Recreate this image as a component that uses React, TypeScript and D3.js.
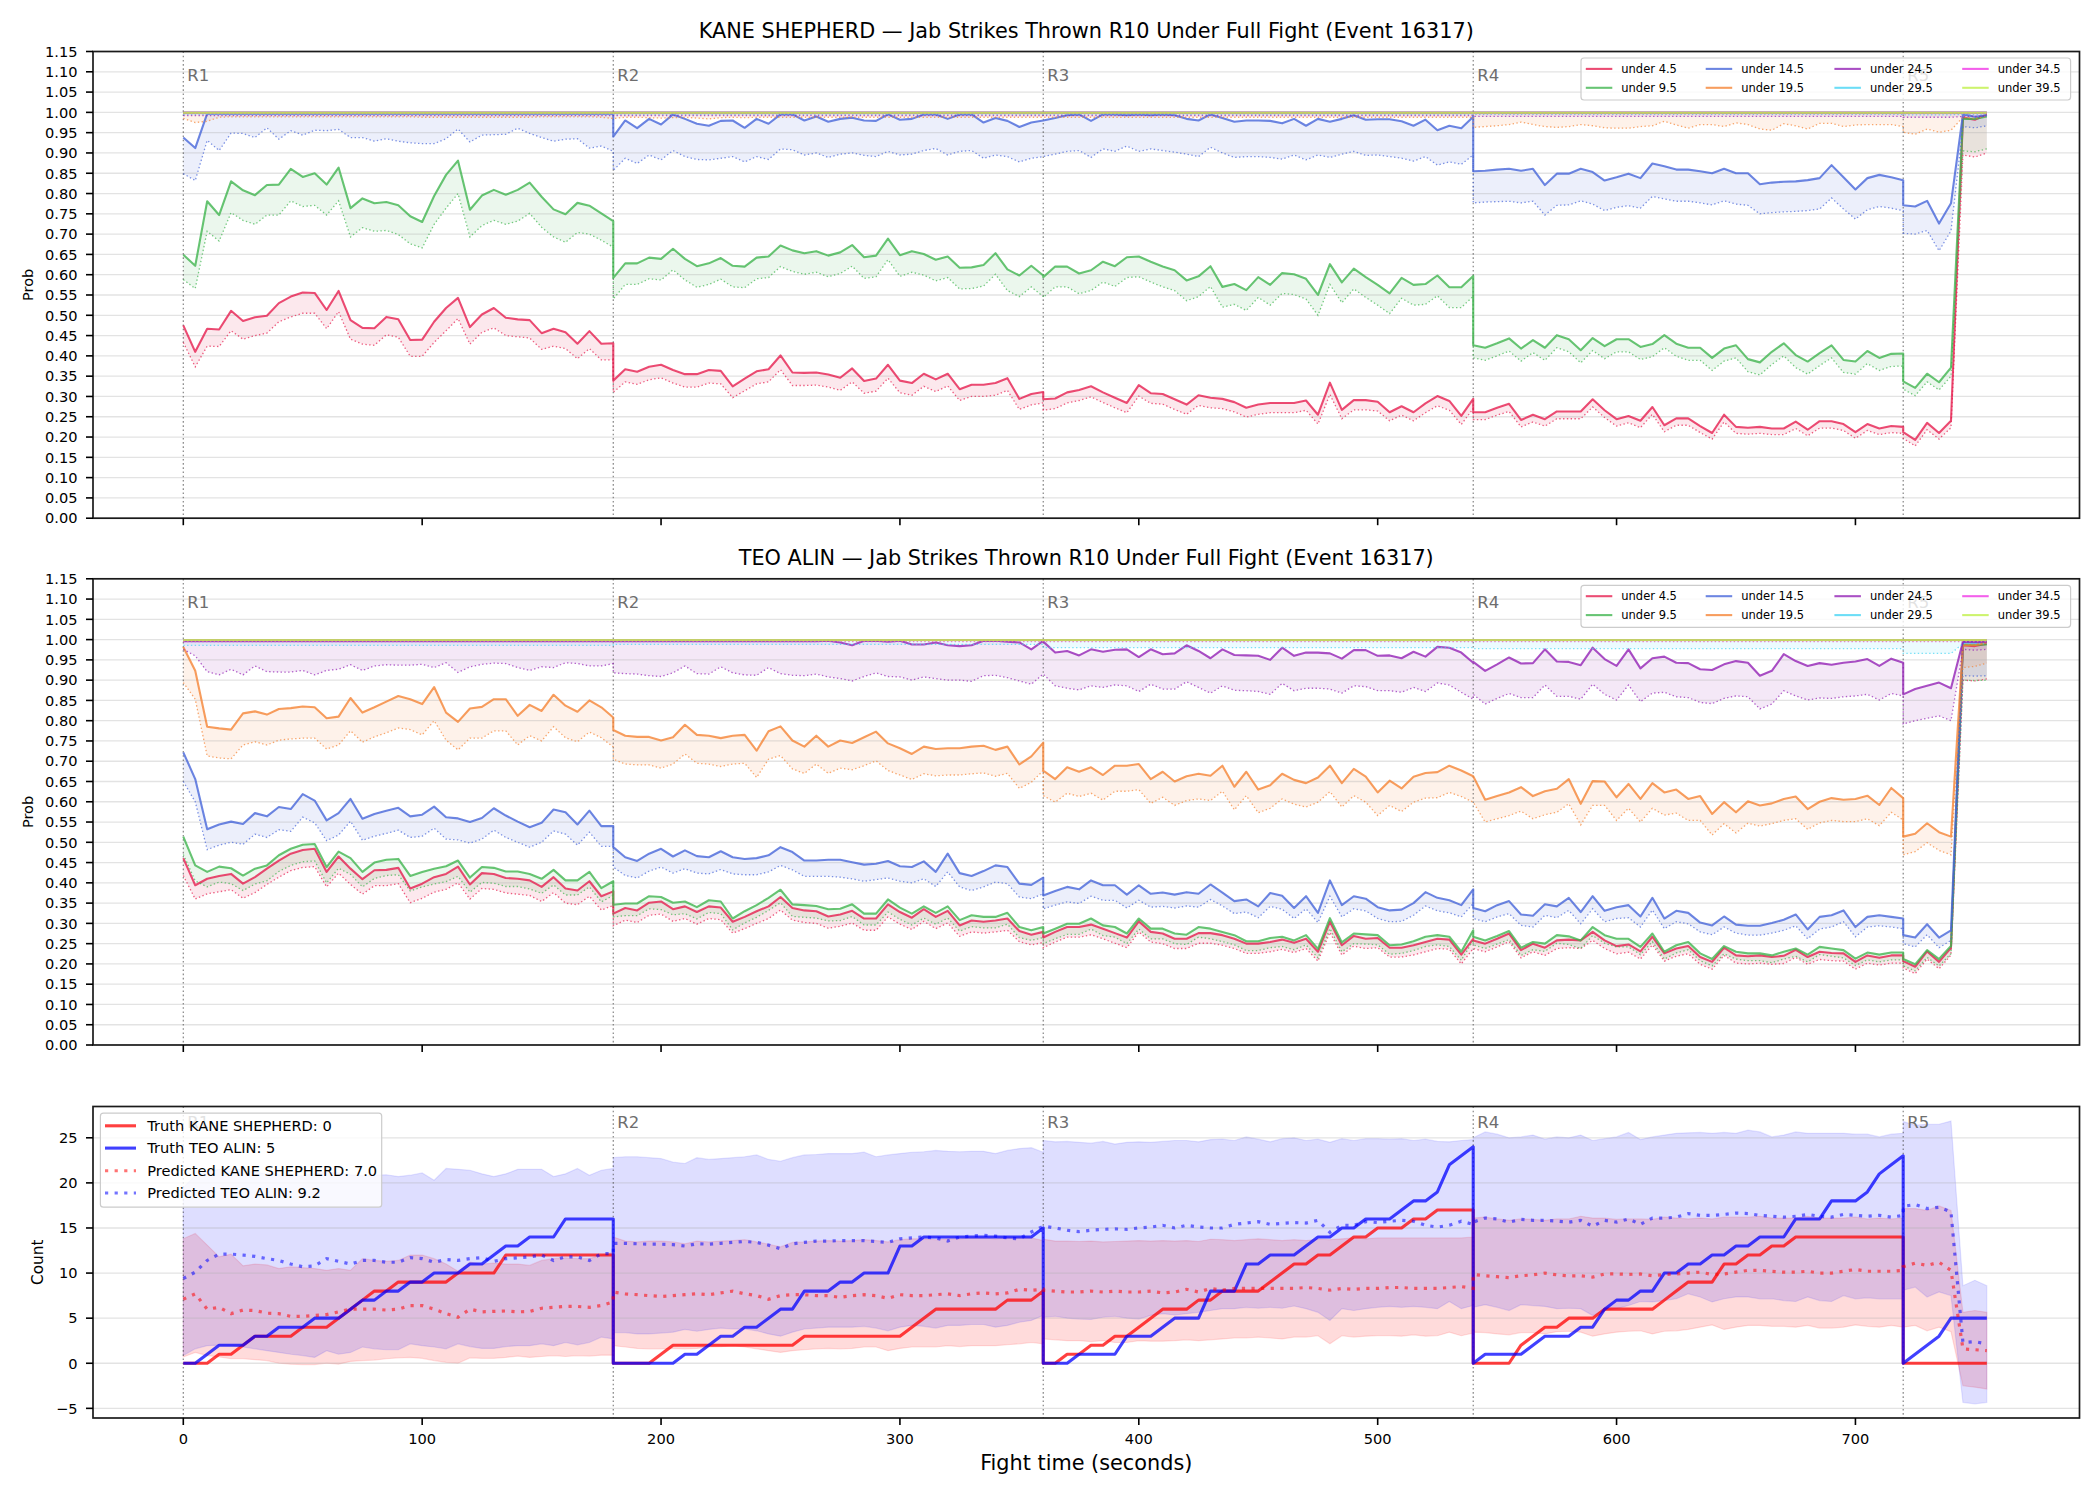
import React from "react";
import * as d3 from "d3";

// ---------------- time axis ----------------
const ROUND_STARTS = [0, 180, 360, 540, 720];
const ROUND_NAMES = ["R1", "R2", "R3", "R4", "R5"];
const SAMPLE_STEP = 5;
const FIGHT_END = 755;
// segment lengths: R1..R4 (37 samples each, boundary repeated), R5 before / after the final jump
const SEG_LENGTHS = [37, 37, 37, 37, 5, 3];

function buildTimes(): number[] {
  const t: number[] = [];
  for (let r = 0; r < 4; r++) for (let k = 0; k <= 36; k++) t.push(ROUND_STARTS[r] + k * SAMPLE_STEP);
  for (let s = 720; s <= FIGHT_END; s += SAMPLE_STEP) t.push(s);
  return t;
}
const TIMES = buildTimes();

// flat series (read as constant level per segment)
function expandLevels(levels: number[]): number[] {
  const out: number[] = [];
  SEG_LENGTHS.forEach((n, i) => {
    for (let k = 0; k < n; k++) out.push(levels[i]);
  });
  return out;
}

// ---------------- labels / colours ----------------
const OU_LABELS = ["under 4.5", "under 9.5", "under 14.5", "under 19.5", "under 24.5", "under 29.5", "under 34.5", "under 39.5"];
const OU_COLORS = ["#e6194b", "#3cb44b", "#4363d8", "#f58231", "#911eb4", "#42d4f4", "#f032e6", "#bfef45"];
const TITLE_TOP = "KANE SHEPHERD \u2014 Jab Strikes Thrown R10 Under Full Fight (Event 16317)";
const TITLE_MID = "TEO ALIN \u2014 Jab Strikes Thrown R10 Under Full Fight (Event 16317)";
const PROB_TICKS = [0, 0.05, 0.1, 0.15, 0.2, 0.25, 0.3, 0.35, 0.4, 0.45, 0.5, 0.55, 0.6, 0.65, 0.7, 0.75, 0.8, 0.85, 0.9, 0.95, 1.0, 1.05, 1.1, 1.15];
const COUNT_TICKS = [-5, 0, 5, 10, 15, 20, 25];
const X_TICKS = [0, 100, 200, 300, 400, 500, 600, 700];
const COUNT_LEGEND = ["Truth KANE SHEPHERD: 0", "Truth TEO ALIN: 5", "Predicted KANE SHEPHERD: 7.0", "Predicted TEO ALIN: 9.2"];

// ---------------- KANE SHEPHERD (top panel) ----------------
const TOP_U45_HI = [
  0.475,0.41,0.467,0.465,0.511,0.486,0.495,0.499,0.53,0.546,0.556,0.555,0.513,0.56,0.488,0.469,0.468,0.496,0.49,0.439,0.44,0.484,0.518,0.543,0.471,0.502,0.518,0.494,0.49,0.488,0.456,0.467,0.458,0.43,0.461,0.43,0.431,
  0.339,0.367,0.361,0.373,0.378,0.365,0.355,0.355,0.365,0.363,0.325,0.344,0.362,0.367,0.401,0.359,0.358,0.359,0.354,0.346,0.369,0.338,0.344,0.378,0.339,0.333,0.356,0.342,0.356,0.318,0.329,0.329,0.333,0.345,0.294,0.306,0.311,
  0.293,0.295,0.31,0.316,0.325,0.31,0.297,0.284,0.328,0.308,0.306,0.293,0.28,0.303,0.297,0.294,0.286,0.272,0.28,0.284,0.284,0.284,0.29,0.255,0.334,0.267,0.291,0.291,0.287,0.261,0.276,0.261,0.283,0.301,0.289,0.252,0.294,
  0.261,0.261,0.272,0.282,0.242,0.255,0.244,0.263,0.263,0.263,0.293,0.266,0.244,0.252,0.24,0.274,0.229,0.246,0.246,0.227,0.21,0.255,0.225,0.223,0.225,0.221,0.221,0.238,0.218,0.239,0.239,0.232,0.212,0.232,0.221,0.227,0.225,
  0.212,0.193,0.235,0.21,0.24,0.987,0.982,0.995,
];
const TOP_U45_LO = [
  0.433,0.373,0.424,0.423,0.462,0.441,0.45,0.456,0.484,0.496,0.505,0.505,0.467,0.509,0.441,0.429,0.426,0.452,0.446,0.399,0.399,0.433,0.462,0.492,0.429,0.458,0.469,0.45,0.447,0.444,0.416,0.424,0.418,0.393,0.418,0.39,0.39,
  0.31,0.336,0.33,0.341,0.346,0.333,0.323,0.323,0.333,0.331,0.297,0.314,0.331,0.336,0.366,0.327,0.327,0.328,0.323,0.315,0.336,0.308,0.313,0.345,0.309,0.303,0.325,0.312,0.326,0.29,0.3,0.3,0.303,0.315,0.268,0.279,0.284,
  0.266,0.27,0.284,0.29,0.299,0.285,0.272,0.26,0.301,0.283,0.281,0.268,0.256,0.278,0.272,0.27,0.262,0.249,0.256,0.26,0.26,0.26,0.266,0.232,0.305,0.245,0.267,0.267,0.264,0.24,0.254,0.24,0.26,0.277,0.266,0.231,0.27,
  0.243,0.243,0.254,0.263,0.225,0.237,0.227,0.245,0.245,0.245,0.274,0.248,0.227,0.235,0.223,0.256,0.213,0.229,0.229,0.211,0.195,0.237,0.209,0.207,0.209,0.206,0.206,0.221,0.203,0.222,0.222,0.216,0.197,0.216,0.206,0.211,0.209,
  0.197,0.178,0.218,0.195,0.223,0.895,0.89,0.9,
];
const TOP_U95_HI = [
  0.649,0.622,0.781,0.747,0.83,0.808,0.796,0.821,0.822,0.861,0.841,0.85,0.822,0.864,0.764,0.788,0.776,0.779,0.771,0.744,0.73,0.794,0.846,0.881,0.76,0.795,0.809,0.797,0.809,0.827,0.792,0.761,0.749,0.777,0.77,0.751,0.732,
  0.592,0.628,0.628,0.642,0.639,0.664,0.639,0.621,0.628,0.641,0.622,0.62,0.642,0.645,0.672,0.66,0.653,0.658,0.647,0.655,0.673,0.643,0.647,0.689,0.648,0.658,0.651,0.637,0.645,0.617,0.618,0.624,0.653,0.613,0.598,0.622,0.598,
  0.594,0.62,0.62,0.603,0.611,0.632,0.621,0.643,0.645,0.632,0.62,0.611,0.586,0.596,0.621,0.57,0.577,0.562,0.594,0.575,0.604,0.601,0.59,0.55,0.626,0.581,0.615,0.594,0.575,0.554,0.592,0.575,0.577,0.598,0.569,0.569,0.597,
  0.426,0.42,0.431,0.443,0.418,0.439,0.42,0.451,0.441,0.414,0.444,0.424,0.441,0.441,0.422,0.429,0.451,0.43,0.42,0.42,0.395,0.418,0.426,0.392,0.384,0.41,0.431,0.402,0.386,0.407,0.426,0.39,0.386,0.412,0.395,0.405,0.406,
  0.337,0.321,0.356,0.335,0.371,0.984,0.984,0.99,
];
const TOP_U95_LO = [
  0.588,0.566,0.707,0.683,0.753,0.734,0.724,0.747,0.747,0.782,0.768,0.771,0.747,0.782,0.693,0.716,0.707,0.709,0.699,0.676,0.666,0.724,0.764,0.8,0.693,0.721,0.734,0.724,0.732,0.751,0.717,0.693,0.68,0.704,0.7,0.685,0.668,
  0.54,0.576,0.576,0.59,0.587,0.612,0.587,0.569,0.576,0.589,0.57,0.568,0.59,0.593,0.62,0.608,0.601,0.606,0.595,0.603,0.621,0.591,0.595,0.637,0.596,0.606,0.599,0.585,0.593,0.565,0.566,0.572,0.601,0.561,0.546,0.57,0.546,
  0.544,0.57,0.57,0.553,0.561,0.582,0.571,0.593,0.595,0.582,0.57,0.561,0.536,0.546,0.571,0.52,0.527,0.512,0.544,0.525,0.554,0.551,0.54,0.5,0.576,0.531,0.565,0.544,0.525,0.504,0.542,0.525,0.527,0.548,0.519,0.519,0.547,
  0.395,0.389,0.4,0.412,0.387,0.408,0.389,0.42,0.41,0.383,0.413,0.393,0.41,0.41,0.391,0.398,0.42,0.399,0.389,0.389,0.364,0.387,0.395,0.361,0.353,0.379,0.4,0.371,0.355,0.376,0.395,0.359,0.355,0.381,0.364,0.374,0.375,
  0.318,0.302,0.336,0.316,0.35,0.905,0.903,0.91,
];
const TOP_U145_HI = [
  0.938,0.912,0.997,0.997,0.997,0.997,0.997,0.997,0.997,0.997,0.997,0.997,0.997,0.997,0.997,0.997,0.997,0.997,0.997,0.997,0.997,0.997,0.997,0.997,0.997,0.997,0.997,0.997,0.997,0.997,0.997,0.997,0.997,0.997,0.997,0.997,0.997,
  0.94,0.98,0.961,0.984,0.97,0.995,0.984,0.972,0.967,0.979,0.98,0.962,0.984,0.972,0.995,0.995,0.98,0.99,0.977,0.984,0.987,0.98,0.979,0.995,0.982,0.984,0.995,0.995,0.984,0.995,0.995,0.975,0.986,0.979,0.964,0.975,0.98,
  0.98,0.986,0.993,0.995,0.979,0.995,0.995,0.993,0.995,0.993,0.995,0.993,0.984,0.98,0.995,0.986,0.977,0.98,0.98,0.979,0.973,0.984,0.967,0.984,0.977,0.984,0.993,0.982,0.983,0.983,0.978,0.967,0.982,0.956,0.967,0.961,0.989,
  0.855,0.856,0.859,0.861,0.856,0.861,0.821,0.849,0.849,0.861,0.853,0.832,0.84,0.849,0.838,0.874,0.867,0.859,0.859,0.855,0.85,0.861,0.85,0.85,0.823,0.827,0.829,0.83,0.833,0.838,0.87,0.84,0.81,0.838,0.846,0.84,0.833,
  0.771,0.768,0.782,0.726,0.776,0.995,0.989,0.993,
];
const TOP_U145_LO = [
  0.849,0.832,0.931,0.906,0.949,0.948,0.938,0.962,0.934,0.955,0.944,0.956,0.955,0.958,0.938,0.938,0.929,0.935,0.929,0.925,0.923,0.923,0.935,0.959,0.927,0.944,0.945,0.946,0.961,0.948,0.938,0.929,0.934,0.935,0.912,0.917,0.904,
  0.857,0.887,0.874,0.895,0.883,0.906,0.891,0.884,0.883,0.887,0.891,0.878,0.891,0.884,0.91,0.908,0.895,0.9,0.889,0.897,0.9,0.894,0.891,0.904,0.895,0.897,0.906,0.911,0.895,0.904,0.906,0.887,0.895,0.891,0.878,0.887,0.891,
  0.891,0.897,0.904,0.906,0.889,0.91,0.904,0.917,0.904,0.91,0.906,0.902,0.897,0.891,0.914,0.9,0.889,0.891,0.891,0.889,0.885,0.895,0.883,0.895,0.889,0.897,0.904,0.894,0.895,0.891,0.887,0.88,0.891,0.87,0.878,0.872,0.895,
  0.777,0.779,0.78,0.781,0.777,0.781,0.747,0.771,0.772,0.782,0.774,0.758,0.766,0.77,0.764,0.793,0.787,0.781,0.781,0.777,0.772,0.782,0.774,0.771,0.75,0.753,0.755,0.756,0.758,0.762,0.789,0.762,0.737,0.76,0.768,0.764,0.758,
  0.702,0.7,0.709,0.659,0.708,0.965,0.962,0.967,
];
const TOP_U195_HI = expandLevels([0.999, 0.999, 0.999, 0.999, 0.999, 0.999]);
const TOP_U195_LO = [
  0.985,0.975,0.978,0.988,0.989,0.989,0.989,0.989,0.989,0.989,0.989,0.989,0.989,0.989,0.989,0.989,0.989,0.989,0.989,0.989,0.988,0.988,0.988,0.988,0.988,0.988,0.988,0.988,0.988,0.988,0.989,0.989,0.989,0.989,0.989,0.988,0.985,
  0.985,0.988,0.988,0.987,0.986,0.987,0.988,0.986,0.984,0.987,0.988,0.987,0.988,0.988,0.988,0.988,0.988,0.988,0.988,0.988,0.988,0.988,0.988,0.988,0.988,0.988,0.988,0.988,0.988,0.988,0.988,0.988,0.988,0.988,0.988,0.988,0.988,
  0.988,0.988,0.988,0.988,0.988,0.988,0.988,0.988,0.988,0.988,0.988,0.988,0.988,0.988,0.988,0.988,0.988,0.988,0.988,0.988,0.988,0.988,0.988,0.988,0.988,0.988,0.988,0.988,0.988,0.988,0.988,0.988,0.988,0.988,0.988,0.988,0.988,
  0.963,0.965,0.967,0.97,0.976,0.97,0.965,0.963,0.965,0.97,0.967,0.962,0.961,0.961,0.965,0.967,0.978,0.969,0.961,0.97,0.97,0.965,0.974,0.97,0.959,0.956,0.972,0.967,0.959,0.973,0.973,0.965,0.969,0.97,0.97,0.97,0.965,
  0.951,0.946,0.959,0.951,0.956,0.988,0.985,0.99,
];
const TOP_U245_HI = expandLevels([0.999, 0.999, 0.999, 0.999, 0.999, 0.999]);
const TOP_U245_LO = expandLevels([0.992, 0.992, 0.992, 0.99, 0.988, 0.99]);
const TOP_U295_HI = expandLevels([0.999, 0.999, 0.999, 0.999, 0.999, 0.999]);
const TOP_U295_LO = expandLevels([0.995, 0.995, 0.995, 0.995, 0.994, 0.995]);
const TOP_U345_HI = expandLevels([0.999, 0.999, 0.999, 0.999, 0.999, 0.999]);
const TOP_U345_LO = expandLevels([0.997, 0.997, 0.997, 0.997, 0.997, 0.997]);
const TOP_U395_HI = expandLevels([0.999, 0.999, 0.999, 0.999, 0.999, 0.999]);
const TOP_U395_LO = expandLevels([0.998, 0.998, 0.998, 0.998, 0.998, 0.998]);

// ---------------- TEO ALIN (middle panel) ----------------
const MID_U45_HI = [
  0.461,0.394,0.41,0.417,0.422,0.398,0.414,0.435,0.455,0.472,0.481,0.484,0.427,0.465,0.435,0.409,0.431,0.432,0.437,0.386,0.398,0.414,0.422,0.44,0.396,0.424,0.422,0.412,0.41,0.406,0.39,0.414,0.386,0.381,0.404,0.367,0.379,
  0.324,0.338,0.332,0.351,0.354,0.335,0.342,0.328,0.342,0.339,0.304,0.316,0.33,0.342,0.365,0.338,0.332,0.33,0.317,0.322,0.331,0.312,0.312,0.347,0.328,0.314,0.335,0.316,0.331,0.295,0.307,0.304,0.307,0.312,0.281,0.272,0.279,
  0.265,0.279,0.291,0.291,0.297,0.287,0.276,0.265,0.305,0.279,0.275,0.262,0.262,0.276,0.276,0.271,0.262,0.25,0.25,0.254,0.26,0.252,0.262,0.23,0.304,0.246,0.269,0.262,0.264,0.24,0.24,0.246,0.254,0.262,0.26,0.223,0.262,
  0.258,0.25,0.262,0.275,0.234,0.25,0.24,0.258,0.26,0.258,0.279,0.258,0.244,0.248,0.231,0.267,0.226,0.238,0.244,0.217,0.205,0.24,0.221,0.219,0.221,0.217,0.22,0.235,0.217,0.23,0.227,0.226,0.205,0.221,0.215,0.221,0.221,
  0.207,0.193,0.231,0.205,0.24,0.986,0.984,0.99,
];
const MID_U45_LO = [
  0.418,0.36,0.373,0.378,0.383,0.362,0.376,0.396,0.414,0.43,0.438,0.44,0.39,0.424,0.396,0.372,0.393,0.393,0.398,0.351,0.362,0.377,0.384,0.4,0.36,0.386,0.384,0.375,0.372,0.369,0.354,0.376,0.35,0.346,0.367,0.333,0.344,
  0.294,0.308,0.302,0.32,0.323,0.305,0.312,0.298,0.312,0.309,0.276,0.287,0.3,0.312,0.333,0.308,0.302,0.3,0.288,0.293,0.301,0.283,0.283,0.316,0.298,0.285,0.305,0.287,0.301,0.268,0.279,0.276,0.279,0.283,0.255,0.247,0.253,
  0.24,0.254,0.266,0.266,0.272,0.262,0.251,0.24,0.279,0.254,0.25,0.238,0.238,0.251,0.251,0.246,0.238,0.226,0.226,0.23,0.236,0.228,0.238,0.207,0.278,0.222,0.244,0.238,0.24,0.217,0.217,0.222,0.23,0.238,0.236,0.2,0.238,
  0.238,0.23,0.242,0.255,0.215,0.23,0.221,0.238,0.24,0.238,0.258,0.238,0.225,0.229,0.212,0.247,0.207,0.219,0.225,0.199,0.187,0.221,0.202,0.2,0.202,0.199,0.201,0.216,0.199,0.211,0.208,0.207,0.187,0.202,0.197,0.202,0.202,
  0.19,0.176,0.212,0.188,0.222,0.9,0.898,0.903,
];
const MID_U95_HI = [
  0.514,0.443,0.427,0.44,0.436,0.418,0.435,0.443,0.468,0.484,0.494,0.496,0.439,0.477,0.461,0.427,0.45,0.457,0.459,0.417,0.427,0.435,0.441,0.455,0.413,0.439,0.437,0.428,0.428,0.422,0.41,0.432,0.406,0.406,0.427,0.387,0.404,
  0.346,0.349,0.349,0.367,0.365,0.351,0.354,0.34,0.357,0.354,0.312,0.33,0.345,0.363,0.383,0.347,0.345,0.343,0.335,0.336,0.347,0.324,0.324,0.359,0.339,0.324,0.342,0.326,0.342,0.308,0.32,0.316,0.316,0.326,0.291,0.283,0.291,
  0.275,0.287,0.299,0.299,0.312,0.295,0.291,0.275,0.312,0.287,0.287,0.275,0.272,0.291,0.287,0.279,0.271,0.256,0.256,0.264,0.267,0.258,0.271,0.237,0.313,0.253,0.275,0.273,0.271,0.246,0.248,0.256,0.267,0.271,0.267,0.23,0.283,
  0.267,0.258,0.269,0.281,0.24,0.254,0.25,0.271,0.268,0.258,0.291,0.271,0.262,0.262,0.242,0.275,0.23,0.246,0.254,0.226,0.212,0.244,0.23,0.226,0.226,0.221,0.23,0.238,0.223,0.242,0.238,0.234,0.213,0.228,0.223,0.228,0.228,
  0.212,0.199,0.234,0.212,0.244,0.988,0.987,0.988,
];
const MID_U95_LO = [
  0.47,0.405,0.39,0.402,0.398,0.381,0.397,0.405,0.428,0.443,0.452,0.454,0.4,0.436,0.421,0.39,0.411,0.418,0.42,0.38,0.39,0.397,0.403,0.416,0.377,0.401,0.399,0.391,0.391,0.385,0.374,0.395,0.37,0.37,0.39,0.353,0.369,
  0.316,0.319,0.319,0.336,0.334,0.321,0.324,0.311,0.327,0.324,0.284,0.301,0.315,0.332,0.351,0.317,0.315,0.313,0.306,0.307,0.317,0.296,0.296,0.328,0.31,0.296,0.313,0.298,0.313,0.281,0.292,0.289,0.289,0.298,0.265,0.258,0.265,
  0.25,0.262,0.273,0.273,0.286,0.27,0.266,0.25,0.286,0.262,0.262,0.25,0.248,0.266,0.262,0.255,0.247,0.233,0.233,0.24,0.243,0.235,0.247,0.215,0.287,0.23,0.25,0.249,0.247,0.224,0.226,0.233,0.243,0.247,0.243,0.209,0.258,
  0.247,0.238,0.249,0.26,0.221,0.235,0.231,0.251,0.248,0.238,0.27,0.251,0.242,0.242,0.223,0.255,0.212,0.227,0.235,0.208,0.195,0.225,0.212,0.208,0.208,0.203,0.212,0.219,0.205,0.223,0.219,0.215,0.196,0.21,0.205,0.21,0.21,
  0.195,0.183,0.216,0.195,0.225,0.9,0.899,0.9,
];
const MID_U145_HI = [
  0.722,0.656,0.532,0.544,0.551,0.545,0.572,0.564,0.587,0.582,0.619,0.603,0.554,0.572,0.607,0.558,0.57,0.578,0.585,0.564,0.568,0.588,0.562,0.559,0.55,0.56,0.584,0.566,0.551,0.537,0.548,0.581,0.574,0.544,0.578,0.54,0.54,
  0.488,0.463,0.454,0.472,0.484,0.465,0.48,0.466,0.463,0.478,0.463,0.459,0.461,0.468,0.488,0.476,0.455,0.455,0.457,0.457,0.451,0.445,0.447,0.454,0.441,0.439,0.453,0.427,0.472,0.424,0.417,0.429,0.443,0.439,0.398,0.395,0.413,
  0.369,0.38,0.39,0.384,0.406,0.394,0.394,0.371,0.394,0.373,0.376,0.371,0.377,0.373,0.396,0.376,0.355,0.359,0.342,0.375,0.368,0.338,0.367,0.326,0.406,0.345,0.367,0.361,0.34,0.332,0.334,0.35,0.377,0.363,0.357,0.345,0.384,
  0.338,0.33,0.345,0.355,0.322,0.319,0.347,0.342,0.363,0.328,0.367,0.331,0.34,0.345,0.317,0.363,0.312,0.331,0.326,0.302,0.295,0.317,0.297,0.294,0.294,0.301,0.309,0.322,0.285,0.316,0.32,0.332,0.291,0.316,0.32,0.316,0.312,
  0.271,0.265,0.298,0.265,0.283,0.994,0.993,0.993,
];
const MID_U145_LO = [
  0.65,0.6,0.482,0.493,0.5,0.495,0.52,0.512,0.531,0.527,0.562,0.548,0.504,0.518,0.552,0.505,0.515,0.522,0.53,0.512,0.515,0.535,0.508,0.506,0.498,0.508,0.53,0.512,0.5,0.488,0.5,0.528,0.52,0.493,0.525,0.49,0.49,
  0.439,0.418,0.412,0.429,0.439,0.424,0.435,0.424,0.422,0.433,0.422,0.42,0.42,0.427,0.443,0.432,0.416,0.416,0.416,0.414,0.41,0.404,0.408,0.412,0.404,0.4,0.41,0.391,0.427,0.39,0.381,0.39,0.402,0.398,0.365,0.361,0.373,
  0.336,0.345,0.353,0.349,0.367,0.357,0.357,0.338,0.357,0.34,0.342,0.338,0.343,0.34,0.359,0.343,0.324,0.328,0.314,0.342,0.335,0.312,0.336,0.302,0.367,0.316,0.336,0.331,0.312,0.304,0.305,0.32,0.343,0.331,0.326,0.316,0.349,
  0.312,0.304,0.316,0.324,0.295,0.291,0.32,0.314,0.332,0.299,0.336,0.304,0.312,0.314,0.291,0.333,0.287,0.304,0.299,0.279,0.272,0.291,0.276,0.271,0.271,0.276,0.283,0.294,0.262,0.286,0.291,0.304,0.267,0.291,0.294,0.291,0.287,
  0.25,0.242,0.272,0.24,0.258,0.911,0.91,0.911,
];
const MID_U195_HI = [
  0.982,0.923,0.785,0.781,0.778,0.818,0.823,0.815,0.829,0.831,0.835,0.833,0.806,0.81,0.856,0.82,0.833,0.847,0.861,0.853,0.841,0.883,0.82,0.797,0.83,0.834,0.853,0.853,0.812,0.839,0.824,0.864,0.837,0.822,0.85,0.833,0.808,
  0.777,0.763,0.76,0.76,0.751,0.759,0.79,0.765,0.763,0.757,0.763,0.765,0.726,0.774,0.786,0.751,0.736,0.763,0.736,0.751,0.745,0.759,0.773,0.744,0.732,0.718,0.736,0.73,0.732,0.732,0.736,0.738,0.728,0.736,0.692,0.712,0.746,
  0.677,0.656,0.685,0.674,0.685,0.666,0.689,0.689,0.693,0.656,0.674,0.65,0.663,0.669,0.664,0.689,0.637,0.674,0.63,0.641,0.669,0.654,0.646,0.66,0.689,0.646,0.681,0.662,0.623,0.652,0.633,0.662,0.671,0.673,0.689,0.677,0.663,
  0.663,0.605,0.614,0.623,0.636,0.614,0.626,0.632,0.656,0.595,0.651,0.65,0.611,0.644,0.607,0.646,0.623,0.63,0.607,0.614,0.57,0.599,0.574,0.601,0.591,0.596,0.607,0.613,0.582,0.6,0.609,0.605,0.607,0.615,0.592,0.634,0.609,
  0.514,0.521,0.547,0.525,0.514,0.986,0.986,0.993,
];
const MID_U195_LO = [
  0.894,0.853,0.713,0.708,0.706,0.74,0.748,0.74,0.752,0.755,0.757,0.757,0.73,0.74,0.775,0.747,0.76,0.77,0.782,0.778,0.765,0.8,0.752,0.728,0.757,0.757,0.775,0.775,0.74,0.763,0.75,0.785,0.758,0.748,0.772,0.758,0.735,
  0.705,0.693,0.691,0.691,0.683,0.693,0.718,0.695,0.693,0.687,0.693,0.695,0.66,0.705,0.714,0.681,0.67,0.693,0.67,0.683,0.679,0.689,0.701,0.677,0.666,0.655,0.669,0.664,0.666,0.666,0.669,0.671,0.663,0.67,0.633,0.648,0.677,
  0.615,0.599,0.621,0.613,0.621,0.604,0.626,0.626,0.63,0.596,0.611,0.591,0.603,0.607,0.603,0.626,0.58,0.615,0.573,0.584,0.607,0.594,0.587,0.599,0.625,0.587,0.615,0.599,0.566,0.591,0.576,0.599,0.609,0.61,0.623,0.613,0.599,
  0.599,0.55,0.558,0.566,0.577,0.558,0.568,0.574,0.595,0.543,0.591,0.591,0.554,0.584,0.55,0.584,0.567,0.572,0.554,0.554,0.518,0.546,0.523,0.547,0.54,0.546,0.554,0.558,0.532,0.548,0.554,0.551,0.551,0.558,0.541,0.574,0.555,
  0.469,0.477,0.499,0.48,0.469,0.931,0.934,0.942,
];
const MID_U245_HI = [
  0.996,0.996,0.996,0.996,0.996,0.996,0.996,0.996,0.996,0.996,0.996,0.996,0.996,0.996,0.996,0.996,0.996,0.996,0.996,0.996,0.996,0.996,0.996,0.996,0.996,0.996,0.996,0.996,0.996,0.996,0.996,0.996,0.996,0.996,0.996,0.996,0.996,
  0.996,0.996,0.996,0.996,0.996,0.996,0.996,0.996,0.996,0.996,0.996,0.996,0.996,0.996,0.996,0.996,0.996,0.996,0.997,0.993,0.986,0.997,0.997,0.995,0.997,0.988,0.988,0.993,0.986,0.984,0.986,0.997,0.997,0.995,0.993,0.976,0.997,
  0.995,0.968,0.972,0.961,0.976,0.97,0.975,0.976,0.957,0.976,0.964,0.966,0.986,0.972,0.954,0.976,0.962,0.961,0.96,0.95,0.98,0.96,0.968,0.968,0.966,0.953,0.974,0.974,0.96,0.961,0.954,0.97,0.958,0.982,0.98,0.968,0.943,
  0.945,0.923,0.939,0.956,0.941,0.942,0.976,0.946,0.945,0.937,0.98,0.952,0.935,0.976,0.929,0.954,0.958,0.943,0.942,0.927,0.925,0.939,0.947,0.943,0.911,0.923,0.964,0.947,0.935,0.942,0.938,0.943,0.946,0.952,0.935,0.953,0.943,
  0.865,0.878,0.886,0.894,0.88,0.995,0.995,0.995,
];
const MID_U245_LO = [
  0.976,0.96,0.921,0.913,0.927,0.913,0.935,0.921,0.92,0.92,0.924,0.913,0.924,0.927,0.938,0.924,0.935,0.938,0.937,0.937,0.939,0.931,0.943,0.919,0.933,0.939,0.942,0.941,0.931,0.924,0.933,0.931,0.943,0.941,0.935,0.935,0.941,
  0.918,0.916,0.915,0.911,0.909,0.918,0.935,0.916,0.915,0.933,0.918,0.913,0.912,0.931,0.916,0.912,0.911,0.915,0.908,0.904,0.898,0.909,0.918,0.909,0.908,0.9,0.908,0.904,0.9,0.9,0.897,0.911,0.912,0.906,0.898,0.89,0.915,
  0.915,0.886,0.88,0.876,0.886,0.882,0.888,0.886,0.872,0.89,0.878,0.878,0.896,0.882,0.868,0.886,0.875,0.874,0.872,0.865,0.892,0.874,0.88,0.88,0.878,0.868,0.886,0.884,0.874,0.874,0.87,0.882,0.872,0.893,0.888,0.87,0.853,
  0.865,0.841,0.855,0.867,0.857,0.857,0.888,0.86,0.86,0.853,0.89,0.865,0.851,0.888,0.847,0.868,0.87,0.859,0.857,0.845,0.842,0.855,0.861,0.859,0.829,0.841,0.874,0.861,0.851,0.856,0.855,0.859,0.861,0.865,0.851,0.867,0.861,
  0.792,0.8,0.806,0.812,0.8,0.976,0.974,0.976,
];
const MID_U295_HI = expandLevels([0.999, 0.999, 0.999, 0.999, 0.999, 0.999]);
const MID_U295_LO = expandLevels([0.986, 0.988, 0.98, 0.978, 0.966, 0.99]);
const MID_U345_HI = expandLevels([0.999, 0.999, 0.999, 0.999, 0.999, 0.999]);
const MID_U345_LO = expandLevels([0.995, 0.995, 0.995, 0.995, 0.995, 0.995]);
const MID_U395_HI = expandLevels([0.999, 0.999, 0.999, 0.999, 0.999, 0.999]);
const MID_U395_LO = expandLevels([0.997, 0.997, 0.997, 0.997, 0.997, 0.997]);

// ---------------- Counts (bottom panel) ----------------
const TRUTH_KANE = [
  0,0,0,1,1,2,3,3,3,3,4,4,4,5,6,7,8,8,9,9,9,9,9,10,10,10,10,12,12,12,12,12,12,12,12,12,12,
  0,0,0,0,1,2,2,2,2,2,2,2,2,2,2,2,3,3,3,3,3,3,3,3,3,4,5,6,6,6,6,6,6,7,7,7,8,
  0,0,1,1,2,2,3,3,4,5,6,6,6,7,7,8,8,8,8,9,10,11,11,12,12,13,14,14,15,15,15,16,16,17,17,17,17,
  0,0,0,0,2,3,4,4,5,5,5,6,6,6,6,6,7,8,9,9,9,11,11,12,12,13,13,14,14,14,14,14,14,14,14,14,14,
  0,0,0,0,0,0,0,0,
];
const TRUTH_TEO = [
  0,0,1,2,2,2,3,3,4,4,4,5,5,5,6,7,7,8,8,9,9,10,10,10,11,11,12,13,13,14,14,14,16,16,16,16,16,
  0,0,0,0,0,0,1,1,2,3,3,4,4,5,6,6,8,8,8,9,9,10,10,10,13,13,14,14,14,14,14,14,14,14,14,14,15,
  0,0,0,1,1,1,1,3,3,3,4,5,5,5,8,8,8,11,11,12,12,12,13,14,14,15,15,16,16,16,17,18,18,19,22,23,24,
  0,1,1,1,1,2,3,3,3,4,4,6,7,7,8,8,10,10,11,11,12,12,13,13,14,14,14,16,16,16,18,18,18,19,21,22,23,
  0,1,2,3,5,5,5,5,
];
const PRED_KANE = [
  7.1,7.7,6.0,6.2,5.5,5.9,5.85,5.55,5.5,5.2,5.2,5.3,5.4,5.7,6.0,6.0,6.0,5.9,6.0,6.4,6.4,6.0,5.5,5.1,6.0,5.7,5.75,5.8,5.7,5.75,6.1,6.2,6.3,6.3,6.2,6.4,6.8,
  7.9,7.7,7.6,7.5,7.4,7.5,7.6,7.7,7.6,7.8,8.0,7.7,7.5,7.1,7.5,7.6,7.6,7.5,7.5,7.3,7.5,7.6,7.5,7.2,7.6,7.5,7.5,7.6,7.7,7.5,7.7,7.8,7.7,7.8,8.2,8.1,8.2,
  8.1,8.0,7.9,7.9,8.0,7.9,8.0,7.9,7.9,8.0,7.8,7.9,8.2,7.9,8.3,8.1,8.3,8.3,8.3,8.3,8.3,8.3,8.4,8.3,8.1,8.3,8.2,8.3,8.3,8.4,8.4,8.3,8.3,8.3,8.4,8.5,8.3,
  9.85,9.7,9.6,9.5,9.7,9.8,10.0,9.8,9.7,9.7,9.55,9.9,9.9,9.85,9.9,9.7,9.85,9.9,10.0,10.1,9.85,9.9,10.1,10.3,10.3,10.2,10.1,10.1,10.2,10.0,10.0,10.2,10.4,10.2,10.2,10.2,10.3,
  10.7,11.1,10.85,11.2,10.3,1.6,1.5,1.4,
];
const PRED_TEO = [
  9.4,10.1,11.4,12.1,12.1,12.0,11.85,11.6,11.4,11.0,10.7,10.8,11.6,11.3,11.0,11.4,11.4,11.2,11.2,11.7,11.6,11.2,11.5,11.4,11.6,11.7,11.3,11.6,11.7,11.8,12.0,11.4,11.8,11.8,11.4,12.15,12.15,
  13.3,13.3,13.25,13.2,13.2,13.15,13.0,13.25,13.2,13.3,13.4,13.5,13.4,13.1,12.7,13.25,13.4,13.55,13.55,13.6,13.6,13.6,13.5,13.4,13.8,13.9,14.0,13.9,13.55,14.0,14.1,14.2,14.1,13.9,13.8,14.55,15.2,
  15.2,15.0,14.75,14.6,14.75,14.85,14.9,14.85,15.0,15.1,15.3,15.0,15.3,15.1,15.0,15.0,15.4,15.55,15.7,15.4,15.5,15.6,15.55,15.85,14.5,15.3,15.3,15.7,15.6,15.75,15.85,15.75,15.3,15.1,15.3,15.75,15.4,
  15.65,16.1,16.0,15.65,15.95,15.85,15.85,15.75,15.65,15.85,15.2,15.85,15.65,16.0,15.4,16.1,16.1,16.2,16.6,16.4,16.4,16.5,16.65,16.6,16.4,16.3,16.2,16.3,16.5,16.3,16.2,16.5,16.4,16.3,16.4,16.2,16.4,
  17.4,17.6,17.15,17.3,16.8,2.3,2.4,2.15,
];
const BAND_KANE_HI = [
  13.8,14.4,13.1,11.8,12.1,10.8,11.0,10.9,10.5,10.7,10.6,10.5,10.3,10.5,10.3,11.6,11.4,11.3,11.4,12.0,12.0,11.6,11.0,10.2,11.2,11.0,11.1,11.0,11.0,10.85,11.4,11.6,11.7,11.6,11.6,12.0,12.3,
  14.0,13.55,13.45,13.55,13.55,13.45,13.25,13.55,13.45,13.55,13.6,13.7,13.45,13.2,12.9,13.4,13.45,13.55,13.6,13.55,13.6,13.7,13.6,13.45,13.7,13.8,13.8,13.7,13.8,13.8,13.9,13.9,13.8,13.9,13.9,13.9,13.6,
  13.75,13.55,13.55,13.5,13.55,13.45,13.5,13.55,13.6,13.55,13.6,13.55,13.6,13.5,13.75,13.7,13.6,13.7,13.8,13.7,13.6,13.7,13.6,13.75,13.7,13.8,13.9,13.8,13.9,13.9,13.9,13.9,13.9,13.9,13.9,13.9,14.0,
  16.1,16.2,16.0,15.85,16.0,15.95,15.85,16.0,16.0,16.3,16.1,16.1,15.95,16.0,16.0,15.95,16.2,16.1,16.0,16.1,16.0,16.2,16.2,16.2,16.3,16.1,16.1,16.1,16.3,16.1,16.1,16.1,16.2,16.0,16.1,16.0,16.1,
  17.15,17.15,16.95,17.45,16.95,5.65,5.85,5.65,
];
const BAND_KANE_LO = [
  0.7,1.2,0.85,0.7,0.5,0.5,0.4,0.3,0.0,-0.1,-0.15,-0.15,0.0,-0.1,0.2,0.3,0.35,0.5,0.6,0.65,0.55,0.3,0.1,0.0,0.6,0.55,0.55,0.65,0.8,0.65,0.75,0.85,0.75,0.85,0.8,0.9,0.9,
  1.95,1.8,1.65,1.6,1.6,1.65,1.6,1.65,1.8,1.85,1.95,1.8,1.6,1.4,1.2,1.4,1.5,1.6,1.65,1.6,1.65,1.8,1.8,1.4,1.65,1.8,1.8,1.8,1.95,1.85,1.95,1.95,1.95,2.05,2.15,2.3,2.15,
  2.7,2.6,2.5,2.5,2.4,2.5,2.3,2.3,2.5,2.45,2.45,2.5,2.6,2.5,2.6,2.7,2.8,2.8,2.9,2.8,2.7,2.9,2.9,3.05,2.15,3.05,2.9,3.0,3.05,3.05,3.0,3.15,3.0,3.05,3.45,3.05,3.35,
  3.45,3.4,3.25,3.15,3.4,3.4,3.25,3.5,3.55,3.45,3.0,3.25,3.45,3.55,3.6,3.25,3.55,3.6,3.75,4.0,4.25,3.75,4.0,4.2,4.2,4.1,4.1,4.0,4.2,3.9,3.9,4.0,4.25,4.1,4.0,4.2,4.0,
  4.0,4.2,3.6,4.0,3.5,-2.5,-2.65,-2.85,
];
const BAND_TEO_HI = [
  19.5,20.8,21.3,21.5,21.6,21.4,21.2,21.0,20.9,20.7,20.8,21.0,21.2,21.1,20.9,20.8,20.85,20.9,20.7,20.85,21.1,20.3,21.6,21.5,21.4,21.0,20.7,21.0,21.5,21.5,21.5,20.7,21.0,21.6,20.85,21.4,21.6,
  22.8,22.9,22.9,22.8,22.7,22.3,22.15,22.8,22.6,22.7,22.8,22.9,23.1,22.6,22.4,22.8,23.1,23.15,23.25,23.25,23.25,23.4,22.9,23.1,23.25,23.4,23.45,23.6,23.5,23.45,23.5,23.5,23.25,23.6,23.8,23.9,23.4,
  24.7,24.55,24.6,24.5,24.4,24.6,24.3,24.5,24.55,24.5,24.6,24.7,24.7,24.55,24.8,24.85,24.7,25.1,24.85,24.55,24.9,25.0,24.7,24.85,24.5,24.9,24.7,24.9,24.9,24.85,24.9,24.7,24.85,24.6,24.55,24.7,24.8,
  25.0,25.65,25.4,25.0,25.1,25.3,24.85,25.1,25.0,25.3,24.7,24.9,25.1,25.6,24.8,25.1,25.3,25.5,25.55,25.6,25.5,25.6,25.5,25.85,25.65,25.1,25.3,25.65,25.5,25.5,25.5,25.5,25.4,25.4,25.1,25.4,25.5,
  26.8,26.4,26.5,26.5,26.85,8.6,9.2,8.6,
];
const BAND_TEO_LO = [
  0.85,1.6,1.95,2.0,1.95,1.8,1.6,1.4,1.2,1.0,0.85,0.65,1.4,1.0,1.2,1.8,1.6,1.5,1.5,2.15,1.95,1.8,1.6,2.15,1.85,1.65,1.65,1.85,1.95,1.95,2.15,1.95,2.3,2.05,2.3,2.9,2.7,
  3.4,3.4,3.25,3.25,3.35,3.45,3.75,3.55,3.75,3.9,3.8,3.8,3.6,3.25,3.0,3.45,3.8,3.9,4.0,4.0,4.0,4.1,3.9,3.6,4.0,4.2,4.1,3.9,4.2,4.2,4.3,4.3,4.0,4.2,4.55,4.75,5.3,
  5.1,5.2,5.0,4.9,4.85,5.1,5.2,5.0,4.9,5.3,5.5,5.35,5.5,5.65,5.85,6.05,6.05,6.2,6.1,6.2,6.1,6.35,6.05,5.65,4.75,6.05,5.85,6.05,6.2,6.3,6.2,6.3,6.2,6.05,6.85,6.05,6.4,
  6.2,6.5,6.2,5.85,6.5,6.4,6.3,6.05,6.1,6.05,5.3,5.85,6.05,6.4,6.85,6.8,6.95,7.15,7.7,7.35,6.8,7.15,7.35,7.35,7.15,7.15,6.95,6.85,7.35,6.95,6.85,7.5,7.15,7.25,7.15,7.15,7.15,
  8.1,8.45,7.35,7.9,7.5,-4.35,-4.5,-4.35,
];

// ---------------- layout ----------------
const W = 2100;
const H = 1500;
const FONT = "'DejaVu Sans', 'Liberation Sans', Arial, sans-serif";
const X_LEFT = 93;
const X_RIGHT = 2079.5;
const P1 = { top: 51.5, bottom: 518.2 };
const P2 = { top: 578.8, bottom: 1045 };
const P3 = { top: 1106.5, bottom: 1418 };

const x = d3.scaleLinear().domain([-37.8, 793.8]).range([X_LEFT, X_RIGHT]);

type Series = { label: string; color: string; hi: number[]; lo: number[] };

const TOP_SERIES: Series[] = [
  { label: OU_LABELS[0], color: OU_COLORS[0], hi: TOP_U45_HI, lo: TOP_U45_LO },
  { label: OU_LABELS[1], color: OU_COLORS[1], hi: TOP_U95_HI, lo: TOP_U95_LO },
  { label: OU_LABELS[2], color: OU_COLORS[2], hi: TOP_U145_HI, lo: TOP_U145_LO },
  { label: OU_LABELS[3], color: OU_COLORS[3], hi: TOP_U195_HI, lo: TOP_U195_LO },
  { label: OU_LABELS[4], color: OU_COLORS[4], hi: TOP_U245_HI, lo: TOP_U245_LO },
  { label: OU_LABELS[5], color: OU_COLORS[5], hi: TOP_U295_HI, lo: TOP_U295_LO },
  { label: OU_LABELS[6], color: OU_COLORS[6], hi: TOP_U345_HI, lo: TOP_U345_LO },
  { label: OU_LABELS[7], color: OU_COLORS[7], hi: TOP_U395_HI, lo: TOP_U395_LO },
];
const MID_SERIES: Series[] = [
  { label: OU_LABELS[0], color: OU_COLORS[0], hi: MID_U45_HI, lo: MID_U45_LO },
  { label: OU_LABELS[1], color: OU_COLORS[1], hi: MID_U95_HI, lo: MID_U95_LO },
  { label: OU_LABELS[2], color: OU_COLORS[2], hi: MID_U145_HI, lo: MID_U145_LO },
  { label: OU_LABELS[3], color: OU_COLORS[3], hi: MID_U195_HI, lo: MID_U195_LO },
  { label: OU_LABELS[4], color: OU_COLORS[4], hi: MID_U245_HI, lo: MID_U245_LO },
  { label: OU_LABELS[5], color: OU_COLORS[5], hi: MID_U295_HI, lo: MID_U295_LO },
  { label: OU_LABELS[6], color: OU_COLORS[6], hi: MID_U345_HI, lo: MID_U345_LO },
  { label: OU_LABELS[7], color: OU_COLORS[7], hi: MID_U395_HI, lo: MID_U395_LO },
];

function linePath(vals: number[], y: d3.ScaleLinear<number, number>): string {
  return (
    d3
      .line<number>()
      .x((_, i) => x(TIMES[i]))
      .y((v) => y(v))(vals) || ""
  );
}
function areaPath(lo: number[], hi: number[], y: d3.ScaleLinear<number, number>): string {
  const idx = d3.range(Math.min(lo.length, hi.length, TIMES.length));
  return (
    d3
      .area<number>()
      .x((i) => x(TIMES[i]))
      .y0((i) => y(lo[i]))
      .y1((i) => y(hi[i]))(idx) || ""
  );
}

function RoundMarks({ top, bottom }: { top: number; bottom: number }) {
  return (
    <g>
      {ROUND_STARTS.map((s) => (
        <line key={"rl" + s} x1={x(s)} x2={x(s)} y1={top} y2={bottom} stroke="#444" strokeOpacity={0.65} strokeWidth={1.2} strokeDasharray="1.6,2.6" />
      ))}
    </g>
  );
}
function RoundLabels({ labelY }: { labelY: number }) {
  return (
    <g>
      {ROUND_STARTS.map((s, i) => (
        <text key={"rt" + s} x={x(s) + 4} y={labelY} fontSize={16.5} fill="#6e6e6e">
          {ROUND_NAMES[i]}
        </text>
      ))}
    </g>
  );
}

function XTicks({ bottom, labels }: { bottom: number; labels: boolean }) {
  return (
    <g>
      {X_TICKS.map((t) => (
        <g key={"xt" + t}>
          <line x1={x(t)} x2={x(t)} y1={bottom} y2={bottom + 7} stroke="#000" strokeWidth={1.6} />
          {labels && (
            <text x={x(t)} y={bottom + 25.5} fontSize={14.6} textAnchor="middle" fill="#000">
              {t}
            </text>
          )}
        </g>
      ))}
    </g>
  );
}

function ProbPanel({ top, bottom, title, series, clipId }: { top: number; bottom: number; title: string; series: Series[]; clipId: string }) {
  const y = d3.scaleLinear().domain([0, 1.15]).range([bottom, top]);
  const labelY = y(1.15 * 0.965) + 13;
  const legX = [1585.8, 1705.7, 1834.4, 1962.2];
  const legRows = [top + 17.4, top + 36.3];
  return (
    <g>
      <defs>
        <clipPath id={clipId}>
          <rect x={X_LEFT} y={top} width={X_RIGHT - X_LEFT} height={bottom - top} />
        </clipPath>
      </defs>
      <g clipPath={`url(#${clipId})`}>
        {series.map((s) => (
          <path key={"f" + s.label} d={areaPath(s.lo, s.hi, y)} fill={s.color} fillOpacity={0.1} stroke="none" />
        ))}
        {PROB_TICKS.map((v) => (
          <line key={"g" + v} x1={X_LEFT} x2={X_RIGHT} y1={y(v)} y2={y(v)} stroke="#b0b0b0" strokeOpacity={0.35} strokeWidth={1.3} />
        ))}
        <RoundMarks top={top} bottom={bottom} />
        {series.map((s) => (
          <g key={"l" + s.label}>
            <path d={linePath(s.hi, y)} fill="none" stroke={s.color} strokeOpacity={0.78} strokeWidth={2.1} strokeLinejoin="round" />
            <path d={linePath(s.lo, y)} fill="none" stroke={s.color} strokeOpacity={0.7} strokeWidth={1.3} strokeDasharray="1.4,2.4" />
          </g>
        ))}
        <RoundLabels labelY={labelY} />
      </g>
      {/* legend */}
      <rect x={1581} y={top + 6.5} width={489.6} height={42} rx={3} fill="#fff" fillOpacity={0.8} stroke="#cccccc" strokeWidth={1.2} />
      {series.map((s, i) => {
        const col = Math.floor(i / 2);
        const row = i % 2;
        const lx = legX[col];
        const ly = legRows[row];
        return (
          <g key={"lg" + s.label}>
            <line x1={lx} x2={lx + 26.5} y1={ly} y2={ly} stroke={s.color} strokeOpacity={0.78} strokeWidth={2.1} />
            <text x={lx + 35.5} y={ly} dy="0.36em" fontSize={11.5} fill="#000">
              {s.label}
            </text>
          </g>
        );
      })}
      <rect x={X_LEFT} y={top} width={X_RIGHT - X_LEFT} height={bottom - top} fill="none" stroke="#1a1a1a" strokeWidth={1.7} />
      {PROB_TICKS.map((v) => (
        <g key={"yt" + v}>
          <line x1={X_LEFT - 7} x2={X_LEFT} y1={y(v)} y2={y(v)} stroke="#000" strokeWidth={1.6} />
          <text x={X_LEFT - 15.5} y={y(v)} dy="0.36em" fontSize={14.6} textAnchor="end" fill="#000">
            {v.toFixed(2)}
          </text>
        </g>
      ))}
      <XTicks bottom={bottom} labels={false} />
      <text x={(X_LEFT + X_RIGHT) / 2} y={top - 13.4} fontSize={20.8} textAnchor="middle" fill="#000">
        {title}
      </text>
      <text transform={`translate(28,${(top + bottom) / 2}) rotate(-90)`} dy="0.36em" fontSize={14.6} textAnchor="middle" fill="#000">
        Prob
      </text>
    </g>
  );
}

function CountPanel() {
  const top = P3.top;
  const bottom = P3.bottom;
  const y = d3.scaleLinear().domain([-6.07, 28.47]).range([bottom, top]);
  const labelY = y(28.47 * 0.965) + 13;
  const legRows = [1125.8, 1148.1, 1170.7, 1193.0];
  const legStyles = [
    { color: "#ff0000", dash: undefined as string | undefined, op: 0.75 },
    { color: "#0000ff", dash: undefined as string | undefined, op: 0.75 },
    { color: "#ff0000", dash: "3.2,6.4", op: 0.55 },
    { color: "#0000ff", dash: "3.2,6.4", op: 0.55 },
  ];
  return (
    <g>
      <defs>
        <clipPath id="clip-count">
          <rect x={X_LEFT} y={top} width={X_RIGHT - X_LEFT} height={bottom - top} />
        </clipPath>
      </defs>
      <g clipPath="url(#clip-count)">
        <path d={areaPath(BAND_KANE_LO, BAND_KANE_HI, y)} fill="#ff0000" fillOpacity={0.14} stroke="#ff0000" strokeOpacity={0.12} strokeWidth={1.2} />
        <path d={areaPath(BAND_TEO_LO, BAND_TEO_HI, y)} fill="#0000ff" fillOpacity={0.13} stroke="#0000ff" strokeOpacity={0.1} strokeWidth={1.2} />
        {COUNT_TICKS.map((v) => (
          <line key={"cg" + v} x1={X_LEFT} x2={X_RIGHT} y1={y(v)} y2={y(v)} stroke="#b0b0b0" strokeOpacity={0.35} strokeWidth={1.3} />
        ))}
        <RoundMarks top={top} bottom={bottom} />
        <path d={linePath(TRUTH_KANE, y)} fill="none" stroke="#ff0000" strokeOpacity={0.75} strokeWidth={3.1} strokeLinejoin="round" />
        <path d={linePath(TRUTH_TEO, y)} fill="none" stroke="#0000ff" strokeOpacity={0.75} strokeWidth={3.1} strokeLinejoin="round" />
        <path d={linePath(PRED_KANE, y)} fill="none" stroke="#ff0000" strokeOpacity={0.55} strokeWidth={3.2} strokeDasharray="3.2,6.4" />
        <path d={linePath(PRED_TEO, y)} fill="none" stroke="#0000ff" strokeOpacity={0.55} strokeWidth={3.2} strokeDasharray="3.2,6.4" />
        <RoundLabels labelY={labelY} />
      </g>
      <rect x={100.4} y={1113.2} width={281.3} height={94} rx={3} fill="#fff" fillOpacity={0.8} stroke="#cccccc" strokeWidth={1.2} />
      {COUNT_LEGEND.map((lab, i) => (
        <g key={"cl" + i}>
          <line x1={105} x2={136} y1={legRows[i]} y2={legRows[i]} stroke={legStyles[i].color} strokeOpacity={legStyles[i].op} strokeWidth={3.1} strokeDasharray={legStyles[i].dash} />
          <text x={147.3} y={legRows[i]} dy="0.36em" fontSize={14.6} fill="#000">
            {lab}
          </text>
        </g>
      ))}
      <rect x={X_LEFT} y={top} width={X_RIGHT - X_LEFT} height={bottom - top} fill="none" stroke="#1a1a1a" strokeWidth={1.7} />
      {COUNT_TICKS.map((v) => (
        <g key={"cyt" + v}>
          <line x1={X_LEFT - 7} x2={X_LEFT} y1={y(v)} y2={y(v)} stroke="#000" strokeWidth={1.6} />
          <text x={X_LEFT - 15.5} y={y(v)} dy="0.36em" fontSize={14.6} textAnchor="end" fill="#000">
            {v < 0 ? "\u2212" + Math.abs(v) : String(v)}
          </text>
        </g>
      ))}
      <XTicks bottom={bottom} labels={true} />
      <text x={(X_LEFT + X_RIGHT) / 2} y={1470} fontSize={20.8} textAnchor="middle" fill="#000">
        Fight time (seconds)
      </text>
      <text transform={`translate(37.5,${(top + bottom) / 2}) rotate(-90)`} dy="0.36em" fontSize={15.3} textAnchor="middle" fill="#000">
        Count
      </text>
    </g>
  );
}

export default function App() {
  return (
    <svg
      width={W}
      height={H}
      viewBox={`0 0 ${W} ${H}`}
      style={{ position: "absolute", left: 0, top: 0, display: "block", background: "#fff" }}
      fontFamily={FONT}
    >
      <rect x={0} y={0} width={W} height={H} fill="#fff" />
      <ProbPanel top={P1.top} bottom={P1.bottom} title={TITLE_TOP} series={TOP_SERIES} clipId="clip-top" />
      <ProbPanel top={P2.top} bottom={P2.bottom} title={TITLE_MID} series={MID_SERIES} clipId="clip-mid" />
      <CountPanel />
    </svg>
  );
}
